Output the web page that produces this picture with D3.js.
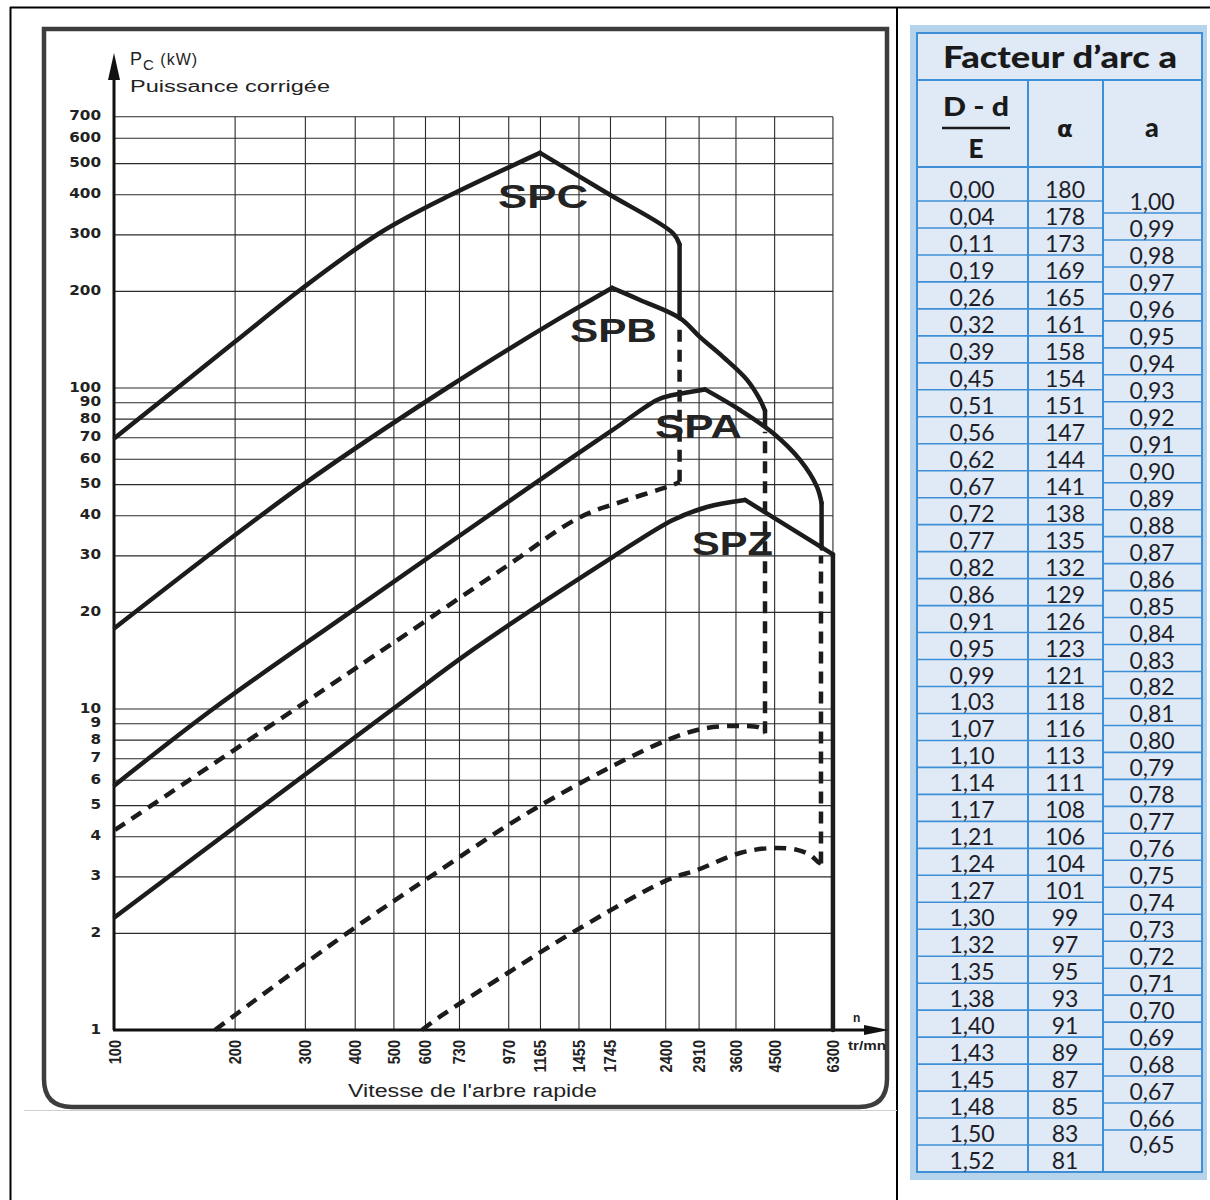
<!DOCTYPE html>
<html>
<head>
<meta charset="utf-8">
<script src="https://cdn.jsdelivr.net/npm/d3@7"></script>
<style>
  body { margin: 0; background: #fff; }
  svg { display: block; }
</style>
</head>
<body>
<svg width="1210" height="1200"></svg>
<script>
// ---- data (n in tr/mn, P in kW) ----
var xTicks = [100, 200, 300, 400, 500, 600, 730, 970, 1165, 1455, 1745, 2400, 2910, 3600, 4500, 6300];
var yTicks = [1, 2, 3, 4, 5, 6, 7, 8, 9, 10, 20, 30, 40, 50, 60, 70, 80, 90, 100, 200, 300, 400, 500, 600, 700];

// solid = upper limit of each belt section, dashed = lower limit
var spcSolid = [[100,70],[198,138],[291,202],[461,304],[679,394],[1162,540],[1710,405],[2500,304],[2600,280],[2600,165]];
var spcDash  = [[100,4.2],[461,15.05],[960,27.9],[1464,39.6],[1919,44.8],[2503,49.9],[2600,51],[2600,158]];
var spbSolid = [[100,17.9],[296,50],[679,100],[1281,163],[1760,205],[2069,188],[2606,165],[2926,144],[3341,125],[3837,106],[4135,92],[4257,85],[4257,76]];
var spbDash  = [[178,1],[381,2],[616,3],[1162,5],[2418,8],[3045,8.73],[3686,8.85],[4135,8.73],[4257,8.4],[4257,73]];
var spaSolid = [[100,5.8],[176,10],[388,20],[1406,61],[1812,75.6],[2282,91.8],[2503,95.1],[3011,99],[3686,85.4],[4457,72.4],[5210,59.7],[5746,49.2],[5900,43.8],[5900,31.6]];
var spaDash  = [[588,1],[652,1.1],[960,1.5],[1438,2.05],[2418,2.93],[2874,3.15],[3686,3.56],[4457,3.69],[5121,3.64],[5520,3.51],[5778,3.34],[5880,3.3],[5880,30]];
var spzSolid = [[100,2.25],[497,10],[789,15.3],[1771,29.8],[2503,38.8],[3045,42.6],[3793,44.8],[6300,30.3],[6300,1]];

var beltNames = ["SPC", "SPB", "SPA", "SPZ"];
var beltLabelN = [912, 1381, 2256, 2793];
var beltLabelP = [364, 139, 69.9, 30.2];

// table "Facteur d'arc a"
var ratioDE = ["0,00","0,04","0,11","0,19","0,26","0,32","0,39","0,45","0,51","0,56","0,62","0,67","0,72","0,77","0,82","0,86","0,91","0,95","0,99","1,03","1,07","1,10","1,14","1,17","1,21","1,24","1,27","1,30","1,32","1,35","1,38","1,40","1,43","1,45","1,48","1,50","1,52"];
var alphaDeg = [180,178,173,169,165,161,158,154,151,147,144,141,138,135,132,129,126,123,121,118,116,113,111,108,106,104,101,99,97,95,93,91,89,87,85,83,81];
var arcFactor = ["1,00","0,99","0,98","0,97","0,96","0,95","0,94","0,93","0,92","0,91","0,90","0,89","0,88","0,87","0,86","0,85","0,84","0,83","0,82","0,81","0,80","0,79","0,78","0,77","0,76","0,75","0,74","0,73","0,72","0,71","0,70","0,69","0,68","0,67","0,66","0,65"];

var svg = d3.select("svg");

// outer page lines
svg.append("line").attr("x1", 10).attr("x2", 1210).attr("y1", 7.5).attr("y2", 7.5).attr("stroke", "#000").attr("stroke-width", 2);
svg.append("line").attr("x1", 10.5).attr("x2", 10.5).attr("y1", 7).attr("y2", 1200).attr("stroke", "#000").attr("stroke-width", 2);
svg.append("line").attr("x1", 897).attr("x2", 897).attr("y1", 7).attr("y2", 1200).attr("stroke", "#000").attr("stroke-width", 2);

// scales (log-log abacus)
var x = d3.scaleLog().domain([100, 10000]).range([115, 913]),
    y = d3.scaleLog().domain([1, 1000]).range([1030, 67]);

// frame of the scanned chart
svg.append("path")
  .attr("d", "M44,1079 L44,29 L887,29 L887,1079 Q887,1107 859,1107 L72,1107 Q44,1107 44,1079 Z")
  .attr("fill", "none").attr("stroke", "#3d3d3d").attr("stroke-width", 4.5);
svg.append("line").attr("x1", 24).attr("x2", 897).attr("y1", 1110.5).attr("y2", 1110.5)
  .attr("stroke", "#cfcfcf").attr("stroke-width", 1);

var g = svg.append("g");

// grid
g.selectAll(".hgrid").data(yTicks.slice(1)).enter().append("line")
  .attr("x1", x(100)).attr("x2", x(6300))
  .attr("y1", function(d) { return y(d); }).attr("y2", function(d) { return y(d); })
  .attr("stroke", "#2b2b2b").attr("stroke-width", 1.1);
g.selectAll(".vgrid").data(xTicks.slice(1)).enter().append("line")
  .attr("x1", function(d) { return x(d); }).attr("x2", function(d) { return x(d); })
  .attr("y1", y(1)).attr("y2", y(700))
  .attr("stroke", "#2b2b2b").attr("stroke-width", 1.1);

// axes with arrows
g.append("line").attr("x1", x(100) - 1).attr("x2", x(100) - 1).attr("y1", y(1)).attr("y2", 76)
  .attr("stroke", "#111").attr("stroke-width", 3);
g.append("path").attr("d", "M" + (x(100) - 1) + ",53 L" + (x(100) - 7) + ",80 L" + (x(100) + 5) + ",80 Z").attr("fill", "#111");
g.append("line").attr("x1", x(100) - 2).attr("x2", 868).attr("y1", y(1)).attr("y2", y(1))
  .attr("stroke", "#111").attr("stroke-width", 3);
g.append("path").attr("d", "M889," + y(1) + " L864," + (y(1) - 5) + " L864," + (y(1) + 5) + " Z").attr("fill", "#111");

// y tick labels
g.selectAll(".ylab").data(yTicks).enter().append("text")
  .attr("x", 101).attr("y", function(d) { return y(d) + 3.5; })
  .attr("text-anchor", "end")
  .attr("textLength", function(d) { return String(d).length * 10.6; })
  .attr("lengthAdjust", "spacingAndGlyphs")
  .style("font-family", "'DejaVu Sans', sans-serif").style("font-weight", "bold").style("font-size", "14px")
  .attr("fill", "#222")
  .text(function(d) { return d; });

// x tick labels, rotated
g.selectAll(".xlab").data(xTicks).enter().append("text")
  .attr("transform", function(d) { return "translate(" + (x(d) + 6) + ",1040) rotate(-90)"; })
  .attr("text-anchor", "end")
  .attr("textLength", function(d) { return String(d).length * 8.1; })
  .attr("lengthAdjust", "spacingAndGlyphs")
  .style("font-family", "'Liberation Sans Narrow', 'Liberation Sans', sans-serif").style("font-weight", "bold").style("font-size", "16.5px")
  .attr("fill", "#222")
  .text(function(d) { return d; });

// axis titles
var pt = g.append("text").attr("x", 130).attr("y", 65)
  .style("font-family", "'Liberation Sans', Arial, sans-serif").style("font-size", "16px")
  .style("letter-spacing", "1px").attr("fill", "#222");
pt.append("tspan").style("font-size", "18px").text("P");
pt.append("tspan").attr("dy", 5).style("font-size", "15px").text("C");
pt.append("tspan").attr("dy", -5).text(" (kW)");
g.append("text").attr("x", 130).attr("y", 92)
  .attr("textLength", 200).attr("lengthAdjust", "spacingAndGlyphs")
  .style("font-family", "'Liberation Sans', Arial, sans-serif").style("font-size", "16px").attr("fill", "#222")
  .text("Puissance corrigée");
g.append("text").attr("x", 348).attr("y", 1097)
  .attr("textLength", 249).attr("lengthAdjust", "spacingAndGlyphs")
  .style("font-family", "'Liberation Sans', Arial, sans-serif").style("font-size", "18px").attr("fill", "#222")
  .text("Vitesse de l'arbre rapide");
g.append("text").attr("x", 853).attr("y", 1022)
  .style("font-family", "'Liberation Sans', Arial, sans-serif").style("font-weight", "bold").style("font-size", "12px").attr("fill", "#222")
  .text("n");
g.append("text").attr("x", 848).attr("y", 1050).attr("textLength", 38).attr("lengthAdjust", "spacingAndGlyphs")
  .style("font-family", "'Liberation Sans', Arial, sans-serif").style("font-weight", "bold").style("font-size", "12px").attr("fill", "#222")
  .text("tr/mn");

// curves: smooth body, sharp peak for the upper limits, straight vertical cut-off
var smooth = d3.line()
  .x(function(d) { return x(d[0]); })
  .y(function(d) { return y(d[1]); })
  .curve(d3.curveCatmullRom.alpha(0.5));
var straight = d3.line()
  .x(function(d) { return x(d[0]); })
  .y(function(d) { return y(d[1]); });

function pieces(s, sharpPeak) {
  var lastN = s[s.length - 1][0], k = s.length - 1;
  while (k > 0 && s[k - 1][0] === lastN) k--;
  var body = s.slice(0, k + 1), cut = s.slice(k);
  var out = [];
  if (sharpPeak) {
    var p = d3.maxIndex(body, function(d) { return d[1]; });
    out.push({ pts: body.slice(0, p + 1), gen: smooth });
    out.push({ pts: body.slice(p), gen: smooth });
  } else {
    out.push({ pts: body, gen: smooth });
  }
  out.push({ pts: cut, gen: straight });
  return out.filter(function(o) { return o.pts.length > 1; });
}

[spcSolid, spbSolid, spaSolid, spzSolid].forEach(function(s) {
  pieces(s, true).forEach(function(o) {
    g.append("path").datum(o.pts).attr("d", o.gen)
      .attr("fill", "none").attr("stroke", "#1c1c1c").attr("stroke-width", 4.5)
      .attr("stroke-linecap", "round").attr("stroke-linejoin", "round");
  });
});
[spcDash, spbDash, spaDash].forEach(function(s) {
  pieces(s, false).forEach(function(o) {
    g.append("path").datum(o.pts).attr("d", o.gen)
      .attr("fill", "none").attr("stroke", "#1c1c1c").attr("stroke-width", 4.5)
      .attr("stroke-dasharray", "12,8");
  });
});

// belt labels
var labelWidths = [90, 87, 87, 81];
beltNames.forEach(function(name, i) {
  g.append("text")
    .attr("x", x(beltLabelN[i])).attr("y", y(beltLabelP[i]))
    .attr("textLength", labelWidths[i]).attr("lengthAdjust", "spacingAndGlyphs")
    .style("font-family", "'Liberation Sans', Arial, sans-serif").style("font-weight", "bold").style("font-size", "33px")
    .attr("fill", "#232323")
    .text(name);
});

// ---- table ----
var tbl = svg.append("g");
var blue = "#3f8fd6", cellFill = "#dfeaf6";
tbl.append("rect").attr("x", 910).attr("y", 25).attr("width", 297).attr("height", 1155).attr("fill", "#b6d3ec");
tbl.append("rect").attr("x", 917).attr("y", 33).attr("width", 285).attr("height", 1139)
  .attr("fill", cellFill).attr("stroke", blue).attr("stroke-width", 2);

var colX = [917, 1028, 1103, 1202];
var colMid = [972, 1065, 1152];

// title
tbl.append("line").attr("x1", 917).attr("x2", 1202).attr("y1", 80).attr("y2", 80).attr("stroke", blue).attr("stroke-width", 2);
tbl.append("text").attr("x", 1060).attr("y", 68).attr("text-anchor", "middle")
  .attr("textLength", 234).attr("lengthAdjust", "spacingAndGlyphs")
  .style("font-family", "Lato, sans-serif").style("font-weight", "900").style("font-size", "31px").attr("fill", "#1a1a1a")
  .text("Facteur d’arc a");

// header
tbl.append("line").attr("x1", 917).attr("x2", 1202).attr("y1", 167).attr("y2", 167).attr("stroke", blue).attr("stroke-width", 2);
[colX[1], colX[2]].forEach(function(cx) {
  tbl.append("line").attr("x1", cx).attr("x2", cx).attr("y1", 80).attr("y2", 1172).attr("stroke", blue).attr("stroke-width", 2);
});
tbl.append("text").attr("x", 976).attr("y", 116).attr("text-anchor", "middle")
  .attr("textLength", 66).attr("lengthAdjust", "spacingAndGlyphs")
  .style("font-family", "Lato, sans-serif").style("font-weight", "900").style("font-size", "26px").attr("fill", "#1a1a1a")
  .text("D - d");
tbl.append("line").attr("x1", 942).attr("x2", 1010).attr("y1", 128).attr("y2", 128).attr("stroke", "#1a1a1a").attr("stroke-width", 2.5);
tbl.append("text").attr("x", 976).attr("y", 158).attr("text-anchor", "middle")
  .style("font-family", "Lato, sans-serif").style("font-weight", "900").style("font-size", "26px").attr("fill", "#1a1a1a")
  .text("E");
tbl.append("text").attr("x", colMid[1]).attr("y", 137).attr("text-anchor", "middle")
  .style("font-family", "'DejaVu Sans', sans-serif").style("font-weight", "bold").style("font-size", "23px").attr("fill", "#1a1a1a")
  .text("α");
tbl.append("text").attr("x", colMid[2]).attr("y", 137).attr("text-anchor", "middle")
  .style("font-family", "Lato, sans-serif").style("font-weight", "900").style("font-size", "27px").attr("fill", "#1a1a1a")
  .text("a");

// rows for columns 1 and 2
var rowEdge = d3.scaleLinear().domain([0, ratioDE.length - 1]).range([201, 1172]);
var rowBottoms = ratioDE.map(function(d, i) { return rowEdge(i); });
tbl.selectAll(".rline").data(rowBottoms.slice(0, -1)).enter().append("line")
  .attr("x1", colX[0]).attr("x2", colX[2])
  .attr("y1", function(d) { return d; }).attr("y2", function(d) { return d; })
  .attr("stroke", blue).attr("stroke-width", 1.6);
var numStyle = function(sel) {
  sel.attr("text-anchor", "middle")
    .style("font-family", "Lato, sans-serif").style("font-size", "23px").attr("fill", "#1e1e2a");
};
tbl.selectAll(".c1").data(ratioDE).enter().append("text")
  .attr("x", colMid[0]).attr("y", function(d, i) { return rowBottoms[i] - 3; })
  .call(numStyle).text(function(d) { return d; });
tbl.selectAll(".c2").data(alphaDeg).enter().append("text")
  .attr("x", colMid[1]).attr("y", function(d, i) { return rowBottoms[i] - 3; })
  .call(numStyle).text(function(d) { return d; });

// column 3 (cells shifted by half a row)
var aEdge = d3.scaleLinear().domain([0, arcFactor.length - 2]).range([213, 1130]);
var aBottoms = arcFactor.map(function(d, i) { return i < arcFactor.length - 1 ? aEdge(i) : 1172; });
tbl.selectAll(".aline").data(aBottoms.slice(0, -1)).enter().append("line")
  .attr("x1", colX[2]).attr("x2", colX[3])
  .attr("y1", function(d) { return d; }).attr("y2", function(d) { return d; })
  .attr("stroke", blue).attr("stroke-width", 1.6);
tbl.selectAll(".c3").data(arcFactor).enter().append("text")
  .attr("x", colMid[2]).attr("y", function(d, i) { return i < arcFactor.length - 1 ? aBottoms[i] - 3 : aBottoms[i - 1] + 23; })
  .call(numStyle).text(function(d) { return d; });
</script>
</body>
</html>
